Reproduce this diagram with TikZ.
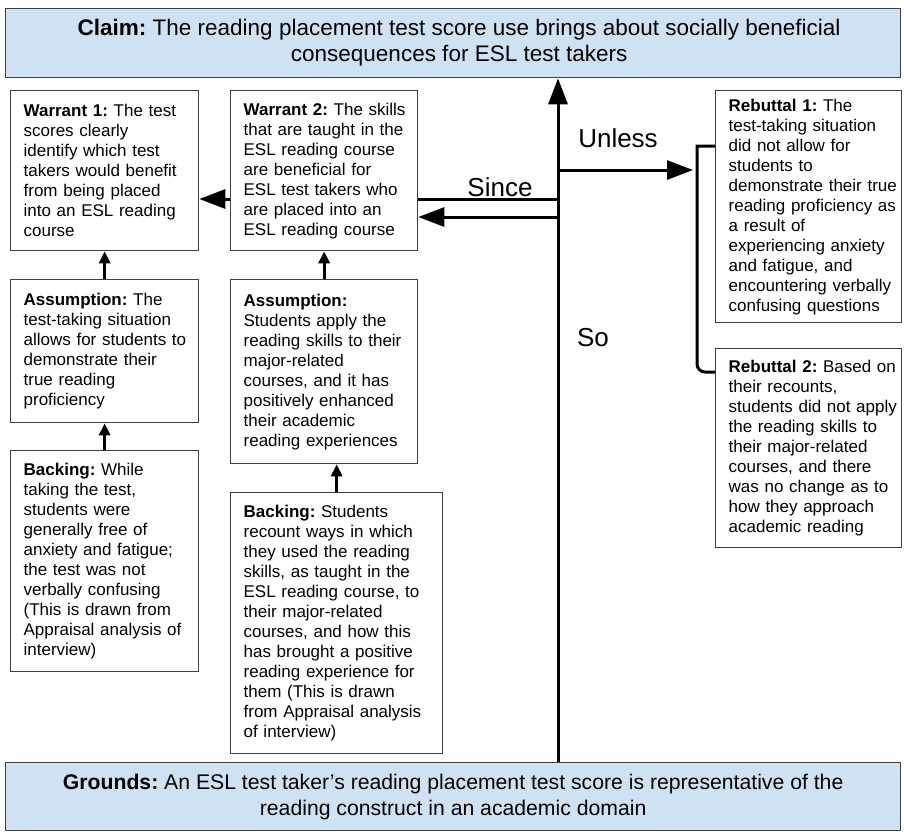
\documentclass[tikz,border=0pt]{standalone}
\usepackage{fontspec}
\setmainfont{Liberation Sans}
\usepackage{xcolor}
\definecolor{claimblue}{HTML}{CFE2F3}
\definecolor{edge}{HTML}{404040}
\usepackage{tikz}
\usetikzlibrary{arrows.meta, positioning, calc}

\newcommand{\boxfont}{\fontsize{17}{20}\selectfont}
\frenchspacing

\begin{document}
\begin{tikzpicture}[x=1pt, y=-1pt,
    box/.style={draw=edge, line width=1.3pt, fill=white, anchor=north west,
                align=left, inner xsep=13pt, inner ysep=3pt, font=\boxfont,
                execute at begin node={\rightskip=-40pt plus 1fil\hyphenpenalty=10000}},
    band/.style={draw=edge, line width=1.3pt, fill=claimblue, anchor=north west,
                 align=center, minimum width=895pt, minimum height=69pt},
    lbl/.style={font=\fontsize{26}{30}\selectfont, inner sep=0pt},
    bigarrow/.style={-{Triangle[length=26pt, width=19pt]}, line width=3pt},
    smallarrow/.style={-{Triangle[length=12pt, width=11pt]}, line width=3pt}]

  \useasboundingbox (0,0) rectangle (904,831);

  % claim and grounds
  \node[band, font=\fontsize{22.5}{26}\selectfont] (claim) at (5,8)
    {\hspace*{12pt}\textbf{Claim:} The reading placement test score use brings about socially beneficial\\
     \hspace*{12pt}consequences for ESL test takers};

  \node[band, minimum height=68pt, font=\fontsize{21.2}{26}\selectfont] (grounds) at (5,762)
    {\textbf{Grounds:} An ESL test taker’s reading placement test score is representative of the\\
     reading construct in an academic domain};

  % warrants
  \node[box, text width=162pt, minimum height=160pt] (warrant1) at (10,90)
    {\textbf{Warrant 1:} The test\\ scores clearly\\ identify which test\\
     takers would benefit\\ from being placed\\ into an ESL reading\\ course};

  \node[box, text width=161pt, minimum height=160pt] (warrant2) at (230,90)
    {\textbf{Warrant 2:} The skills\\ that are taught in the\\ ESL reading course\\
     are beneficial for\\ ESL test takers who\\ are placed into an\\ ESL reading course};

  % assumptions
  \node[box, text width=162pt, minimum height=143pt] (assume1) at (10,279)
    {\textbf{Assumption:} The\\ test-taking situation\\ allows for students to\\
     demonstrate their\\ true reading\\ proficiency};

  \node[box, text width=161pt, minimum height=184pt] (assume2) at (230,279)
    {\textbf{Assumption:}\\ Students apply the\\ reading skills to their\\ major-related\\
     courses, and it has\\ positively enhanced\\ their academic\\ reading experiences};

  % backings
  \node[box, text width=162pt, minimum height=221pt] (backing1) at (10,450)
    {\textbf{Backing:} While\\ taking the test,\\ students were\\ generally free of\\
     anxiety and fatigue;\\ the test was not\\ verbally confusing\\
     (This is drawn from\\ Appraisal analysis of\\ interview)};

  \node[box, text width=186pt, minimum height=261pt] (backing2) at (230,492)
    {\textbf{Backing:} Students\\ recount ways in which\\ they used the reading\\
     skills, as taught in the\\ ESL reading course, to\\ their major-related\\
     courses, and how this\\ has brought a positive\\ reading experience for\\
     them (This is drawn\\ from Appraisal analysis\\ of interview)};

  % rebuttals
  \node[box, text width=160pt, minimum height=232pt] (rebut1) at (715,90)
    {\textbf{Rebuttal 1:} The\\ test-taking situation\\ did not allow for\\ students to\\
     demonstrate their true\\ reading proficiency as\\ a result of\\
     experiencing anxiety\\ and fatigue, and\\ encountering verbally\\ confusing questions};

  \node[box, text width=160pt, minimum height=199pt] (rebut2) at (715,348)
    {\textbf{Rebuttal 2:} Based on\\ their recounts,\\ students did not apply\\
     the reading skills to\\ their major-related\\ courses, and there\\
     was no change as to\\ how they approach\\ academic reading};

  % main spine
  \coordinate (spine) at (558,0);
  \coordinate (sincetop) at (558,199);
  \coordinate (sincelow) at (558,217);
  \coordinate (unlessat) at (558,170);
  \coordinate (bracket) at (697,0);

  \draw[bigarrow] (spine |- grounds.north) -- (spine |- claim.south);

  % since
  \draw[line width=3pt] (sincetop) -- (sincetop -| warrant2.east);
  \draw[bigarrow] (sincelow) -- (sincelow -| warrant2.east);
  \draw[bigarrow] (sincetop -| warrant2.west) -- (sincetop -| warrant1.east);

  % unless
  \draw[bigarrow] (unlessat) -- ($(unlessat -| bracket)+(-4,0)$);
  \draw[line width=3pt] (rebut1.west |- 0,146) -- (bracket |- 0,146)
    [rounded corners=8pt] -- (bracket |- 0,372) -- (rebut2.west |- 0,372);

  % supports
  \draw[smallarrow] (assume1) -- (warrant1);
  \draw[smallarrow] (backing1) -- (assume1);
  \draw[smallarrow] (assume2) -- (warrant2);
  \draw[smallarrow] (backing2.north) -- (backing2.north |- assume2.south);

  \node[lbl] (since) at (500,187) {Since};
  \node[lbl] (unless) at (618,138) {Unless};
  \node[lbl] (so) at (593,338) {So};

\end{tikzpicture}
\end{document}
